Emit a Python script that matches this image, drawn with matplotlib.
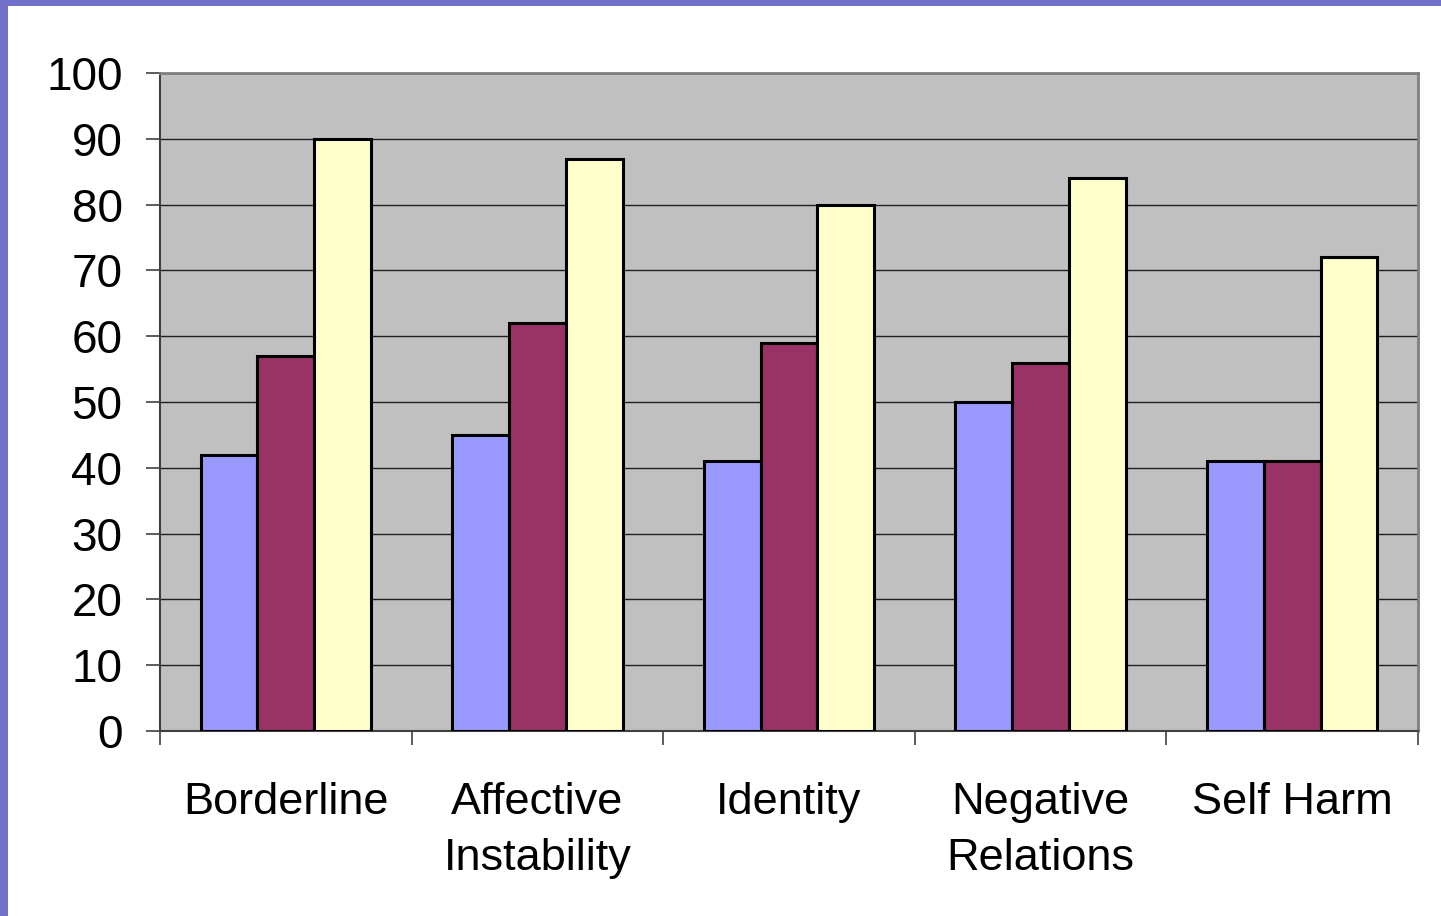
import numpy as np
import matplotlib.pyplot as plt
from matplotlib.patches import Rectangle

# data
categories = ["Borderline", "Affective\nInstability", "Identity", "Negative\nRelations", "Self Harm"]
series_a = [42, 45, 41, 50, 41]
series_b = [57, 62, 59, 56, 41]
series_c = [90, 87, 80, 84, 72]
y_ticks = list(range(0, 101, 10))

colors = ["#9999FF", "#993366", "#FFFFCC"]

plt.rcParams['font.family'] = ['Liberation Sans', 'DejaVu Sans']

fig = plt.figure(figsize=(14.41, 9.16), dpi=100)
fig.patch.set_facecolor("white")

# purple frame strips on left and top edge
fig.patches.append(Rectangle((0, 0), 8 / 1441, 1, transform=fig.transFigure,
                             facecolor="#7070C8", edgecolor="none", zorder=0))
fig.patches.append(Rectangle((0, 1 - 6 / 916), 1, 6 / 916, transform=fig.transFigure,
                             facecolor="#7070C8", edgecolor="none", zorder=0))

ax = fig.add_axes([160 / 1441, 185 / 916, 1258 / 1441, 658 / 916])
ax.set_facecolor("#C0C0C0")

x = np.arange(len(categories))
width = 0.226
for i, (vals, col) in enumerate(zip([series_a, series_b, series_c], colors)):
    ax.bar(x + (i - 1) * width, vals, width, color=col, edgecolor="black",
           linewidth=2.2, zorder=3)

ax.set_xlim(-0.5, len(categories) - 0.5)
ax.set_ylim(0, 100)
ax.set_yticks(y_ticks)
ax.set_yticklabels([str(t) for t in y_ticks], fontsize=33)
ax.yaxis.grid(True, color="#202020", linewidth=1.0, zorder=1)
ax.set_axisbelow(True)

# category ticks sit on group boundaries, labels centered
ax.set_xticks(np.arange(len(categories) + 1) - 0.5)
ax.set_xticklabels([])
ax.set_xticks(x, minor=True)
ax.set_xticklabels(categories, minor=True, fontsize=32.5, linespacing=1.46)
ax.tick_params(axis="x", which="minor", length=0, pad=37)
ax.tick_params(axis="x", which="major", length=10, width=1.2, color="#404040")
ax.tick_params(axis="y", length=10, width=1.2, color="#404040", pad=17)

for side in ["left", "bottom"]:
    ax.spines[side].set_color("#404040")
    ax.spines[side].set_linewidth(1.5)
for side in ["top", "right"]:
    ax.spines[side].set_color("#808080")
    ax.spines[side].set_linewidth(2)

fig.savefig("out.png", dpi=100, facecolor=fig.get_facecolor())
